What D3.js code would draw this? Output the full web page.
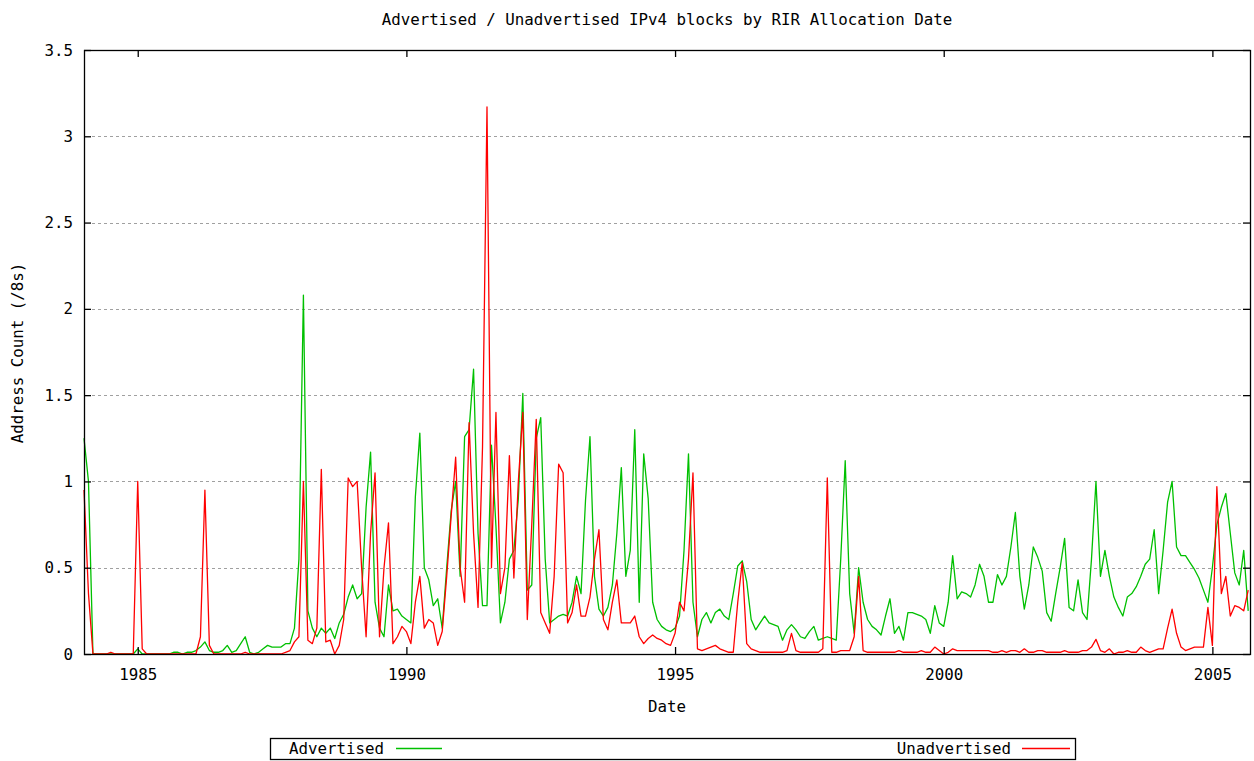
<!DOCTYPE html>
<html>
<head>
<meta charset="utf-8">
<script src="https://cdn.jsdelivr.net/npm/d3@7"></script>
<style>
  body { margin: 0; background: #fff; }
  text { font-family: "DejaVu Sans Mono", "Liberation Mono", monospace; font-size: 15.8px; fill: #000; }
</style>
</head>
<body>
<div id="my_dataviz"></div>
<script>

// monthly values, Jan 1984 .. Sep 2005 (one row per year)
var startYear = 1984

var advertised = [
  1.25, 1.0, 0, 0, 0, 0, 0, 0, 0, 0, 0, 0,
  0.03, 0, 0, 0, 0, 0, 0, 0, 0.01, 0.01, 0, 0.01,
  0.01, 0.02, 0.04, 0.07, 0.02, 0.01, 0.01, 0.02, 0.05, 0.01, 0.02, 0.06,
  0.1, 0.01, 0, 0.01, 0.03, 0.05, 0.04, 0.04, 0.04, 0.06, 0.06, 0.15,
  0.55, 2.08, 0.25, 0.15, 0.1, 0.15, 0.12, 0.15, 0.09, 0.18, 0.23, 0.33,
  0.4, 0.32, 0.35, 0.85, 1.17, 0.3, 0.15, 0.1, 0.4, 0.25, 0.26, 0.22,
  0.2, 0.18, 0.91, 1.28, 0.5, 0.43, 0.28, 0.32, 0.15, 0.5, 0.83, 1.0,
  0.45, 1.26, 1.3, 1.65, 0.7, 0.28, 0.28, 1.21, 0.74, 0.18, 0.3, 0.55,
  0.6, 0.9, 1.51, 0.37, 0.4, 1.25, 1.37, 0.55, 0.18, 0.2, 0.22, 0.23,
  0.22, 0.3, 0.45, 0.35, 0.89, 1.26, 0.45, 0.26, 0.22, 0.27, 0.4, 0.7,
  1.08, 0.45, 0.6, 1.3, 0.3, 1.16, 0.9, 0.3, 0.2, 0.16, 0.14, 0.13,
  0.15, 0.22, 0.6, 1.16, 0.3, 0.1, 0.2, 0.24, 0.18, 0.24, 0.26, 0.22,
  0.2, 0.35, 0.51, 0.54, 0.42, 0.2, 0.14, 0.18, 0.22, 0.18, 0.17, 0.16,
  0.08, 0.14, 0.17, 0.14, 0.1, 0.09, 0.13, 0.16, 0.08, 0.09, 0.1, 0.09,
  0.08, 0.55, 1.12, 0.35, 0.12, 0.5, 0.3, 0.2, 0.16, 0.14, 0.11, 0.22,
  0.32, 0.12, 0.16, 0.08, 0.24, 0.24, 0.23, 0.22, 0.2, 0.12, 0.28, 0.18,
  0.16, 0.3, 0.57, 0.32, 0.36, 0.35, 0.33, 0.4, 0.52, 0.45, 0.3, 0.3,
  0.46, 0.4, 0.45, 0.62, 0.82, 0.45, 0.26, 0.4, 0.62, 0.56, 0.48, 0.24,
  0.19, 0.35, 0.5, 0.67, 0.27, 0.25, 0.43, 0.24, 0.2, 0.55, 1.0, 0.45,
  0.6, 0.45, 0.33, 0.27, 0.22, 0.33, 0.35, 0.39, 0.45, 0.52, 0.55, 0.72,
  0.35, 0.6, 0.88, 1.0, 0.62, 0.57, 0.57, 0.53, 0.49, 0.44, 0.37, 0.3,
  0.5, 0.75, 0.85, 0.93, 0.7, 0.47, 0.4, 0.6, 0.25
]

var unadvertised = [
  0.95, 0.35, 0, 0, 0, 0, 0.01, 0, 0, 0, 0, 0,
  1.0, 0.03, 0, 0, 0, 0, 0, 0, 0, 0, 0, 0,
  0, 0, 0.1, 0.95, 0.05, 0, 0, 0, 0, 0, 0, 0,
  0.01, 0, 0, 0, 0, 0, 0, 0, 0, 0.01, 0.02, 0.07,
  0.1, 1.0, 0.08, 0.06, 0.15, 1.07, 0.07, 0.08, 0, 0.05, 0.2, 1.02,
  0.97, 1.0, 0.5, 0.1, 0.7, 1.05, 0.1, 0.5, 0.76, 0.06, 0.1, 0.16,
  0.13, 0.06, 0.3, 0.45, 0.15, 0.2, 0.18, 0.05, 0.13, 0.45, 0.8, 1.14,
  0.5, 0.3, 1.34, 0.7, 0.27, 1.2, 3.17, 0.5, 1.4, 0.35, 0.5, 1.15,
  0.44, 1.0, 1.4, 0.2, 0.75, 1.36, 0.24, 0.18, 0.12, 0.45, 1.1, 1.05,
  0.18, 0.24, 0.4, 0.22, 0.22, 0.33, 0.55, 0.72, 0.2, 0.14, 0.3, 0.43,
  0.18, 0.18, 0.18, 0.22, 0.1, 0.06, 0.09, 0.11, 0.09, 0.08, 0.06, 0.05,
  0.12, 0.3, 0.25, 0.55, 1.05, 0.03, 0.02, 0.03, 0.04, 0.05, 0.03, 0.02,
  0.01, 0.01, 0.3, 0.53, 0.06, 0.03, 0.02, 0.01, 0.01, 0.01, 0.01, 0.01,
  0.01, 0.02, 0.12, 0.02, 0.01, 0.01, 0.01, 0.01, 0.01, 0.03, 1.02, 0.01,
  0.01, 0.02, 0.02, 0.02, 0.1, 0.45, 0.02, 0.01, 0.01, 0.01, 0.01, 0.01,
  0.01, 0.01, 0.02, 0.01, 0.01, 0.01, 0.01, 0.02, 0.01, 0.01, 0.04, 0.02,
  0, 0.01, 0.03, 0.02, 0.02, 0.02, 0.02, 0.02, 0.02, 0.02, 0.02, 0.01,
  0.01, 0.02, 0.01, 0.02, 0.02, 0.01, 0.03, 0.01, 0.01, 0.02, 0.02, 0.01,
  0.01, 0.01, 0.01, 0.02, 0.01, 0.01, 0.01, 0.02, 0.02, 0.04, 0.085, 0.02,
  0.01, 0.03, 0, 0.01, 0.01, 0.02, 0.01, 0.01, 0.04, 0.02, 0.01, 0.02,
  0.03, 0.03, 0.15, 0.26, 0.12, 0.04, 0.02, 0.03, 0.04, 0.04, 0.04, 0.27,
  0.05, 0.97, 0.35, 0.45, 0.22, 0.28, 0.27, 0.25, 0.37
]

var xTicks = [1985, 1990, 1995, 2000, 2005]
var yTicks = [0, 0.5, 1, 1.5, 2, 2.5, 3, 3.5]
var seriesNames = ["Advertised", "Unadvertised"]
var seriesColors = ["#00c000", "#ff0000"]

// set the dimensions of the page and the plot box
var width = 1254,
    height = 761,
    plotLeft = 84, plotRight = 1250, plotTop = 50, plotBottom = 654

var svg = d3.select("#my_dataviz")
  .append("svg")
    .attr("width", width)
    .attr("height", height)

var x = d3.scaleLinear().domain([1984, 2005.7]).range([plotLeft, plotRight])
var y = d3.scaleLinear().domain([0, 3.5]).range([plotBottom, plotTop])

// dashed grid
svg.append("g")
  .selectAll("line")
  .data(yTicks.filter(function(d) { return d > 0 && d < 3.5 }))
  .enter()
  .append("line")
    .attr("x1", plotLeft + 8)
    .attr("x2", plotRight - 8)
    .attr("y1", function(d) { return Math.round(y(d)) + 0.5 })
    .attr("y2", function(d) { return Math.round(y(d)) + 0.5 })
    .attr("stroke", "#a0a0a0")
    .attr("stroke-dasharray", "3,3")

// the two series
var line = d3.line()
  .x(function(d, i) { return x(startYear + i / 12) })
  .y(function(d) { return y(d) })

;[advertised, unadvertised].forEach(function(values, k) {
  svg.append("path")
    .datum(values)
    .attr("fill", "none")
    .attr("stroke", seriesColors[k])
    .attr("stroke-width", 1.3)
    .attr("stroke-linejoin", "round")
    .attr("d", line)
})

// axes with inward ticks, mirrored on top and right
function styleAxis(g) {
  g.select(".domain").remove()
  g.selectAll(".tick line").attr("stroke", "#000").attr("stroke-width", 1.3)
  g.selectAll("text")
    .attr("font-family", null)
    .attr("font-size", null)
}

svg.append("g")
  .attr("transform", "translate(0," + plotBottom + ")")
  .call(d3.axisBottom(x).tickValues(xTicks).tickFormat(d3.format("d")).tickSize(-7).tickPadding(15))
  .call(styleAxis)

svg.append("g")
  .attr("transform", "translate(0," + plotTop + ")")
  .call(d3.axisTop(x).tickValues(xTicks).tickFormat("").tickSize(-7))
  .call(styleAxis)

svg.append("g")
  .attr("transform", "translate(" + plotLeft + ",0)")
  .call(d3.axisLeft(y).tickValues(yTicks).tickFormat(function(d) { return String(d) }).tickSize(-7).tickPadding(11))
  .call(styleAxis)

svg.append("g")
  .attr("transform", "translate(" + plotRight + ",0)")
  .call(d3.axisRight(y).tickValues(yTicks).tickFormat("").tickSize(-7))
  .call(styleAxis)

// frame
svg.append("rect")
  .attr("x", plotLeft + 0.5)
  .attr("y", plotTop + 0.5)
  .attr("width", plotRight - plotLeft)
  .attr("height", plotBottom - plotTop)
  .attr("fill", "none")
  .attr("stroke", "#000")
  .attr("stroke-width", 1.3)

// titles
svg.append("text")
  .attr("x", 667)
  .attr("y", 25)
  .attr("text-anchor", "middle")
  .text("Advertised / Unadvertised IPv4 blocks by RIR Allocation Date")

svg.append("text")
  .attr("x", 667)
  .attr("y", 712)
  .attr("text-anchor", "middle")
  .text("Date")

svg.append("text")
  .attr("transform", "translate(23,353) rotate(-90)")
  .attr("text-anchor", "middle")
  .text("Address Count (/8s)")

// legend box
svg.append("rect")
  .attr("x", 270.5)
  .attr("y", 738.5)
  .attr("width", 805)
  .attr("height", 21)
  .attr("fill", "none")
  .attr("stroke", "#000")
  .attr("stroke-width", 1.3)

svg.append("text").attr("x", 289).attr("y", 754).text(seriesNames[0])
svg.append("line")
  .attr("x1", 396).attr("x2", 442).attr("y1", 748.5).attr("y2", 748.5)
  .attr("stroke", seriesColors[0]).attr("stroke-width", 1.3)

svg.append("text").attr("x", 1011).attr("y", 754).attr("text-anchor", "end").text(seriesNames[1])
svg.append("line")
  .attr("x1", 1022).attr("x2", 1070).attr("y1", 748.5).attr("y2", 748.5)
  .attr("stroke", seriesColors[1]).attr("stroke-width", 1.3)

</script>
</body>
</html>
